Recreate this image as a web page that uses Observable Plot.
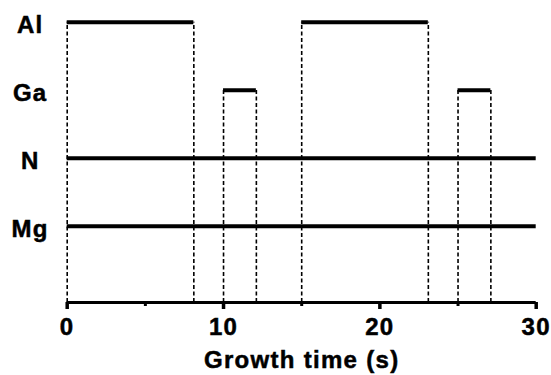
<!DOCTYPE html>
<html>
<head>
<meta charset="utf-8">
<script src="https://cdn.jsdelivr.net/npm/d3@7"></script>
<script src="https://cdn.jsdelivr.net/npm/@observablehq/plot@0.6"></script>
<style>
  html, body { margin: 0; padding: 0; background: #fff; }
  #chart svg { display: block; }
  #chart svg text { letter-spacing: 1.3px; stroke: #000; stroke-width: 0.5px; }
</style>
</head>
<body>
<div id="chart"></div>
<script>
// Source lanes (top to bottom)
const gases = ["Al", "Ga", "N", "Mg"];
const laneIndex = [4, 3, 2, 1];

// Open-shutter intervals (seconds)
const pulseGas   = ["Al", "Al", "Ga", "Ga", "N", "Mg"];
const pulseStart = [0, 15, 10, 25, 0, 0];
const pulseEnd   = [8.1, 23.1, 12.1, 27.1, 30, 30];

// Axis ticks
const majorTicks = [0, 10, 20, 30];
const minorTicks = [5, 15, 25];
const xLabel = "Growth time (s)";

const laneOf = Object.fromEntries(gases.map((g, i) => [g, laneIndex[i]]));
const labels = gases.map((g, i) => ({gas: g, lane: laneIndex[i]}));
const pulses = pulseGas.map((g, i) => ({gas: g, lane: laneOf[g], x1: pulseStart[i], x2: pulseEnd[i]}));
const edges = pulses
  .filter(p => p.gas === "Al" || p.gas === "Ga")
  .flatMap(p => [{x: p.x1, lane: p.lane}, {x: p.x2, lane: p.lane}]);

const yBottom = -0.12;
const font = "'Liberation Sans', Arial, Helvetica, sans-serif";

const chart = Plot.plot({
  width: 551,
  height: 375,
  marginLeft: 66.7,
  marginRight: 15.3,
  marginTop: 21.7,
  marginBottom: 73,
  style: {fontFamily: font, color: "#000", background: "#fff", overflow: "visible"},
  x: {domain: [0, 30]},
  y: {domain: [yBottom, 4], axis: null},
  marks: [
    Plot.ruleX(edges, {x: "x", y1: yBottom, y2: "lane", stroke: "#000", strokeWidth: 1.6, strokeDasharray: "4,2.5"}),
    Plot.ruleY(pulses, {y: "lane", x1: "x1", x2: "x2", stroke: "#000", strokeWidth: 4}),
    Plot.ruleY([yBottom], {x1: 0, x2: 30, stroke: "#000", strokeWidth: 3.2}),
    Plot.axisX({ticks: majorTicks, tickSize: 7, strokeWidth: 3.5, tickPadding: 8, fontSize: 24, fontWeight: "bold", label: null}),
    Plot.axisX({ticks: minorTicks, tickSize: 4, strokeWidth: 3, text: null, label: null}),
    Plot.text([xLabel], {frameAnchor: "bottom", dy: 65, fontSize: 24, fontWeight: "bold", lineAnchor: "bottom", text: d => d}),
    Plot.text(labels, {x: 0, y: "lane", text: "gas", dx: -37, dy: 3, textAnchor: "middle", fontSize: 24, fontWeight: "bold"})
  ]
});
document.getElementById("chart").appendChild(chart);
</script>
</body>
</html>
